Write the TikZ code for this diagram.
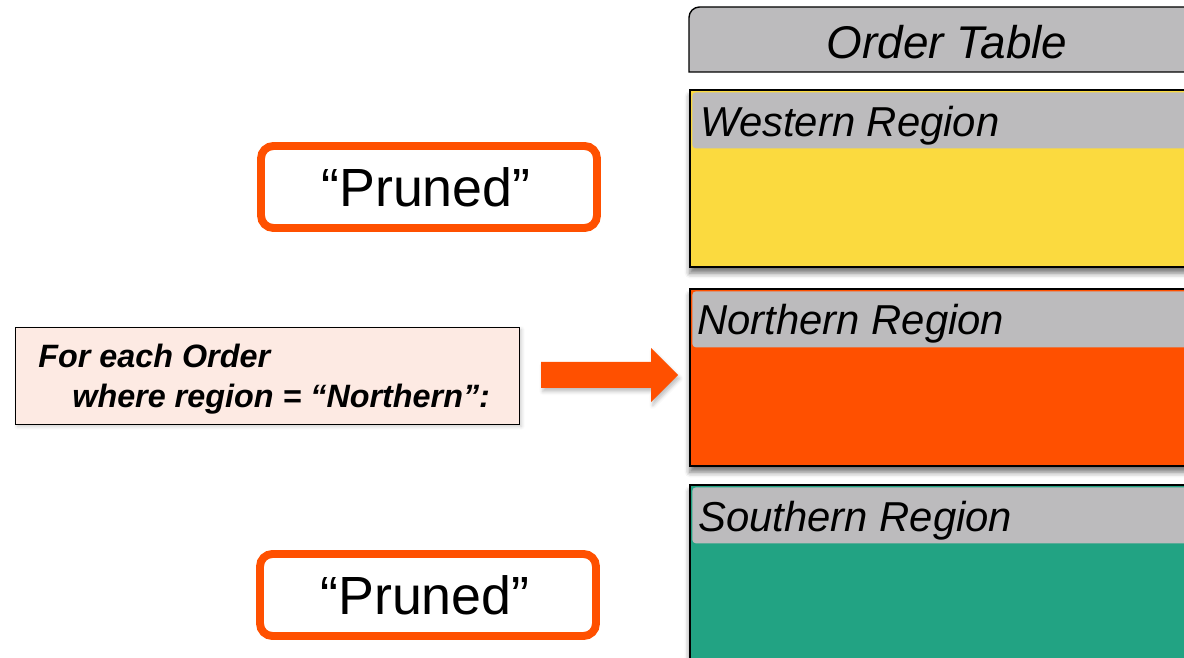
\documentclass[tikz,border=0pt]{standalone}
\usepackage{fontspec}
\setmainfont{Liberation Sans}
\usetikzlibrary{positioning,shadows.blur}

\definecolor{hdrgray}{RGB}{188,187,189}
\definecolor{westyellow}{RGB}{251,218,63}
\definecolor{northorange}{RGB}{255,80,0}
\definecolor{southteal}{RGB}{34,163,131}
\definecolor{filterpink}{RGB}{253,234,227}

\begin{document}
\begin{tikzpicture}[x=0.02cm,y=-0.02cm,
    region/.style={draw=black,line width=1.1pt,anchor=north west,inner sep=0pt,
        minimum width=10.62cm,blur shadow={shadow xshift=0pt,shadow yshift=-3.5pt,
        shadow opacity=55,shadow blur radius=3pt}},
    hdr/.style={fill=hdrgray,anchor=north west,inner sep=0pt,minimum width=10.5cm,
        minimum height=1.12cm,rounded corners=2pt},
    rlabel/.style={anchor=base west,inner sep=0pt,font=\fontsize{23.8}{28}\selectfont\itshape},
    pruned/.style={draw=northorange,fill=white,line width=4.5pt,rounded corners=7pt,
        minimum width=6.72cm,minimum height=1.64cm,font=\fontsize{30.6}{36}\selectfont},
    filtertxt/.style={anchor=base west,inner sep=0pt,
        font=\fontsize{18.4}{22}\selectfont\bfseries\itshape}]
    \clip (0,0) rectangle (1184,658);

    % table heading
    \draw[fill=hdrgray,line width=0.8pt] (1220,72) -- (689,72) [rounded corners=6pt] -- (689,7) [sharp corners] -- (1220,7) -- cycle;
    \node[anchor=base,inner sep=0pt,font=\fontsize{26.1}{30}\selectfont\itshape] (ordertbl) at (947,59) {Order Table};

    % partitions
    \node[region,fill=westyellow,minimum height=3.54cm] (west) at (689,89) {};
    \node[hdr] (westhdr) at (692,92) {};
    \node[rlabel] (westlbl) at (700,137) {Western Region};

    \node[region,fill=northorange,minimum height=3.54cm] (north) at (689,288) {};
    \node[hdr] (northhdr) at (692,291) {};
    \node[rlabel] (northlbl) at (697,335) {Northern Region};

    \node[region,fill=southteal,minimum height=4.4cm] (south) at (689,484) {};
    \node[hdr] (southhdr) at (692,487) {};
    \node[rlabel] (southlbl) at (698,532) {Southern Region};

    % skipped partitions
    \node[pruned] (prunedw) at (429,187) {“Pruned”\hspace*{3.4pt}};
    \node[pruned] (pruneds) at (428,595) {“Pruned”\hspace*{3.4pt}};

    % the query
    \node[draw=black,line width=0.8pt,fill=filterpink,anchor=north west,inner sep=0pt,
        minimum width=10.08cm,minimum height=1.94cm,
        blur shadow={shadow xshift=1pt,shadow yshift=-1pt,shadow opacity=20,shadow blur radius=2pt}]
        (filter) at (15,327) {};
    \node[filtertxt] (forline) at (38,368) {For each Order};
    \node[filtertxt] (whereline) at (72,408) {where region = “Northern”:};

    % block arrow into the northern partition
    \fill[northorange,blur shadow={shadow xshift=1pt,shadow yshift=-2pt,shadow opacity=25,shadow blur radius=2pt}]
        (541,362) -- (651,362) -- (651,348) -- (678,375) -- (651,402) -- (651,388) -- (541,388) -- cycle;
\end{tikzpicture}
\end{document}
